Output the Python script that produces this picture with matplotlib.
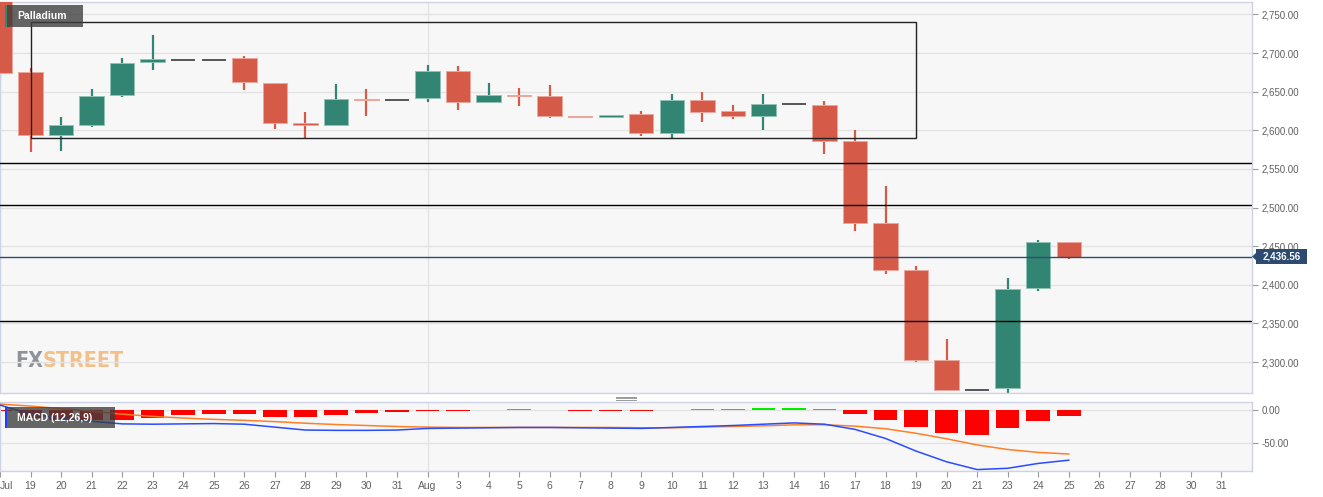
import matplotlib
matplotlib.use("Agg")
import matplotlib.pyplot as plt
from matplotlib import font_manager
from matplotlib.patches import Rectangle, Polygon
from matplotlib.lines import Line2D
from matplotlib.transforms import blended_transform_factory

plt.rcParams['font.family'] = ['Liberation Sans', 'DejaVu Sans']

# ---------------- data ----------------
date_labels = ['Jul', '19', '20', '21', '22', '23', '24', '25', '26', '27', '28', '29', '30', '31',
               'Aug', '3', '4', '5', '6', '7', '8', '9', '10', '11', '12', '13', '14', '16', '17',
               '18', '19', '20', '21', '23', '24', '25', '26', '27', '28', '30', '31']

opens = [2772.0, 2675.1, 2594.2, 2606.8, 2645.2, 2688.1, 2691.2, 2691.2, 2693.8, 2661.7,
         2609.4, 2606.2, 2640.9, 2639.6, 2641.8, 2676.4, 2636.6, 2646.1, 2644.8, 2617.9,
         2617.5, 2621.4, 2596.4, 2638.7, 2624.4, 2618.8, 2633.5, 2632.7, 2586.0, 2479.9,
         2418.8, 2302.9, 2263.4, 2266.9, 2395.5, 2455.2]
closes = [2674.3, 2594.2, 2606.8, 2644.8, 2687.3, 2691.6, 2691.2, 2691.2, 2662.1, 2609.4,
          2606.8, 2640.9, 2639.6, 2639.6, 2676.4, 2637.0, 2645.7, 2644.4, 2617.9, 2616.6,
          2619.2, 2596.4, 2638.7, 2624.0, 2618.8, 2634.0, 2633.5, 2586.4, 2480.3, 2419.2,
          2302.9, 2263.9, 2263.4, 2395.1, 2455.2, 2436.56]
highs = [2785.0, 2680.8, 2617.1, 2653.5, 2693.8, 2722.7, 2691.2, 2691.2, 2695.9, 2661.7,
         2623.6, 2659.5, 2653.5, 2639.6, 2684.7, 2683.8, 2661.7, 2654.8, 2659.1, 2617.9,
         2619.2, 2625.3, 2647.4, 2649.1, 2632.7, 2647.4, 2633.5, 2637.9, 2599.8, 2527.5,
         2424.0, 2330.1, 2263.4, 2409.4, 2457.8, 2455.2]
lows = [2665.6, 2571.7, 2573.8, 2604.2, 2643.1, 2677.7, 2691.2, 2691.2, 2651.7, 2601.6,
        2590.6, 2604.9, 2618.4, 2639.6, 2637.0, 2626.2, 2636.6, 2630.9, 2615.3, 2616.6,
        2617.5, 2593.2, 2588.1, 2610.1, 2614.0, 2600.3, 2633.5, 2569.5, 2469.9, 2414.5,
        2299.8, 2262.1, 2263.4, 2260.0, 2392.0, 2433.5]

macd_line = [8, -6, -12, -17, -21, -21.5, -21, -20.5, -21.5, -26, -30.5, -31, -31, -30.5,
             -28, -27.5, -27, -26.5, -26.5, -27, -27.5, -28, -26.5, -25, -23.5, -21.5, -19.5,
             -21.5, -29.5, -43.5, -63, -79.5, -91.5, -89.5, -82, -77]
signal_line = [9.5, 6.5, 2.5, -1.5, -6, -9.5, -12, -14, -15.5, -17.5, -20, -22, -23.5, -25,
               -26, -26.5, -26.5, -26.5, -26.5, -26.5, -26.5, -27, -27, -26, -25, -24, -22.5,
               -22.3, -24.5, -28.5, -35.5, -44, -53.5, -60.5, -65, -67.5]
macd_hist = [-1.5, -12.5, -14.5, -15.5, -15, -11.4, -7.3, -6.2, -6.2, -9.8, -10.3, -7.3, -4.7,
             -2.5, -1.2, -0.8, 0.8, 1.5, 0.3, -0.6, -0.7, -1.5, 1.0, 1.8, 2.0, 2.8, 3.5, 1.5,
             -5.7, -14.5, -26.3, -34.5, -37.6, -27.8, -16.5, -8.8]

last_price = 2436.56
levels = [2557.3, 2503.0, 2353.0]
range_box = (1, 30, 2590.4, 2739.7)  # start idx, end idx, low, high

# ---------------- style ----------------
RED = '#d55a48'
RED_EDGE = '#eba79d'
GREEN = '#328573'
GREEN_EDGE = '#92c2b7'
FLAT = '#3a3a3a'
BG = '#f7f7f7'
GRID = '#e3e3e3'
BORDER = '#cdd2e4'
TXT = '#606060'

W, H = 1323, 497
fig = plt.figure(figsize=(W / 100, H / 100), dpi=100)
fig.patch.set_facecolor('white')

ax = fig.add_axes([0, 1 - 393 / H, 1252 / W, (393 - 2) / H])
axm = fig.add_axes([0, 1 - 471 / H, 1252 / W, (471 - 402.3) / H])

for a in (ax, axm):
    a.set_facecolor(BG)
    for s in a.spines.values():
        s.set_color(BORDER)
        s.set_linewidth(1.0)
    a.set_xlim(0, 41.0)

ax.set_ylim(2260, 2766)
axm.set_ylim(-93.7, 12.3)

# grids
yt = list(range(2300, 2751, 50))
for v in yt:
    ax.axhline(v, color=GRID, lw=1, zorder=0.5)
for v in (0, -50):
    axm.axhline(v, color=GRID, lw=1, zorder=0.5)
aug_idx = date_labels.index('Aug')
ax.axvline(aug_idx, color=GRID, lw=1, zorder=0.5)
axm.axvline(aug_idx, color=GRID, lw=1, zorder=0.5)

# watermark (pick a narrow face if one is installed)
names = {(f.name, f.stretch) for f in font_manager.fontManager.ttflist}
wm_kw = dict(family=['Liberation Sans', 'DejaVu Sans'])
if any(nm == 'Liberation Sans Narrow' for nm, _ in names):
    wm_kw = dict(family=['Liberation Sans Narrow', 'DejaVu Sans'])
elif ('DejaVu Sans', 'condensed') in names or ('DejaVu Sans', 'semi-condensed') in names:
    wm_kw = dict(family=['DejaVu Sans'], stretch='condensed')
fx = ax.text(15 / 1252, 1 - (361 - 2) / 391, 'FX', transform=ax.transAxes, fontsize=20,
             fontweight='bold', color='#8f9299', va='center', ha='left', zorder=0.4, **wm_kw)
st = ax.annotate('STREET', xy=(1.0, 0.5), xycoords=fx, fontsize=20, fontweight='bold',
                 color='#f3c089', va='center', ha='left', zorder=0.4, **wm_kw)
renderer = fig.canvas.get_renderer()
w_now = fx.get_window_extent(renderer).width + st.get_window_extent(renderer).width
fs = 20 * 109.0 / w_now
fx.set_fontsize(fs)
st.set_fontsize(fs)

# candles
n = len(opens)
xs = list(range(n))
cw = 0.8
for i in xs:
    o, c, h, l = opens[i], closes[i], highs[i], lows[i]
    if abs(c - o) < 1e-9 and abs(h - l) < 1e-9:
        ax.hlines(o, i - cw / 2, i + cw / 2, color=FLAT, lw=1.2, zorder=3)
        continue
    col, ecol = (GREEN, GREEN_EDGE) if c > o else (RED, RED_EDGE)
    ax.vlines(i, l, h, color=col, lw=1.6, zorder=2)
    ht = max(abs(c - o), 0.9)
    ax.bar(i, ht, bottom=min(o, c), width=cw, color=col, edgecolor=ecol, lw=0.7, zorder=3)

# levels
for lv in levels:
    ax.axhline(lv, color='black', lw=1.0, zorder=4)
x0, x1, lo, hi = range_box
ax.add_patch(Rectangle((x0, lo), x1 - x0, hi - lo, fill=False, edgecolor='#222222', lw=1.0, zorder=4))

ax.axhline(last_price, color='#2e4a6f', lw=1.0, zorder=4)

# axes ticks main
ax.set_xticks([])
ax.yaxis.tick_right()
ax.set_yticks(yt)
ax.set_yticklabels([f'{v:,.2f}' for v in yt])
ax.tick_params(axis='y', length=4, width=0.8, color='#9a9a9a', labelcolor=TXT, labelsize=7, pad=3)

# price tag
bt = blended_transform_factory(ax.transAxes, ax.transData)
tag_h = 19.4
ax.add_patch(Rectangle((1.0032, last_price - tag_h / 2), 0.0409, tag_h, transform=bt,
                       facecolor='#2d4a70', edgecolor='none', clip_on=False, zorder=10))
ax.add_patch(Polygon([(1.0, last_price), (1.0034, last_price + 5), (1.0034, last_price - 5)],
                     closed=True, transform=bt, facecolor='#2d4a70', edgecolor='none',
                     clip_on=False, zorder=10))
ax.text(1.0032 + 0.0409 / 2, last_price, f'{last_price:,.2f}', transform=bt, ha='center',
        va='center', color='white', fontsize=7, fontweight='bold', zorder=11, clip_on=False)

# Palladium label
ax.add_patch(Rectangle((5 / 1252, 1 - 25 / 391), 78 / 1252, 22 / 391, transform=ax.transAxes,
                       facecolor='#3c3c3c', alpha=0.78, edgecolor='none', zorder=8))
ax.add_patch(Rectangle((5 / 1252, 1 - 25 / 391), 2.4 / 1252, 22 / 391, transform=ax.transAxes,
                       facecolor='#2f8a73', edgecolor='none', zorder=9))
ax.text(17 / 1252, 1 - 14.5 / 391, 'Palladium', transform=ax.transAxes, ha='left', va='center',
        color='white', fontsize=7.5, fontweight='bold', zorder=9)

# MACD panel
axm.bar(xs, macd_hist, width=0.77, color=['#ff0000' if v < 0 else '#00ee00' for v in macd_hist],
        edgecolor='none', zorder=2)
axm.plot(xs, signal_line, color='#ff7f27', lw=1.1, zorder=3)
axm.plot(xs, macd_line, color='#2a4cff', lw=1.1, zorder=4)

mh = 471 - 402.3
axm.add_patch(Rectangle((5 / 1252, 1 - 26 / mh), 110 / 1252, 21 / mh, transform=axm.transAxes,
                        facecolor='#3c3c3c', alpha=0.78, edgecolor='none', zorder=8))
axm.add_patch(Rectangle((5 / 1252, 1 - 26 / mh), 2.4 / 1252, 21 / mh, transform=axm.transAxes,
                        facecolor='#1f3fff', edgecolor='none', zorder=9))
axm.text(17 / 1252, 1 - 15.5 / mh, 'MACD (12,26,9)', transform=axm.transAxes, ha='left',
         va='center', color='white', fontsize=7.5, fontweight='bold', zorder=9)

axm.yaxis.tick_right()
axm.set_yticks([0, -50])
axm.set_yticklabels(['0.00', '-50.00'])
axm.tick_params(axis='y', length=4, width=0.8, color='#9a9a9a', labelcolor=TXT, labelsize=7, pad=3)
axm.set_xticks(range(len(date_labels)))
axm.set_xticklabels(date_labels)
axm.tick_params(axis='x', length=4, width=0.8, color='#9a9a9a', labelcolor=TXT, labelsize=7.5, pad=3)
axm.get_xticklabels()[0].set_ha('left')

# drag handle
for yy in (396.8, 398.4, 400.0):
    fig.add_artist(Line2D([616 / W, 636 / W], [1 - yy / H, 1 - yy / H], transform=fig.transFigure,
                          color='#8a8a8a', lw=0.6))

fig.savefig('out.png', dpi=100, facecolor='white')
